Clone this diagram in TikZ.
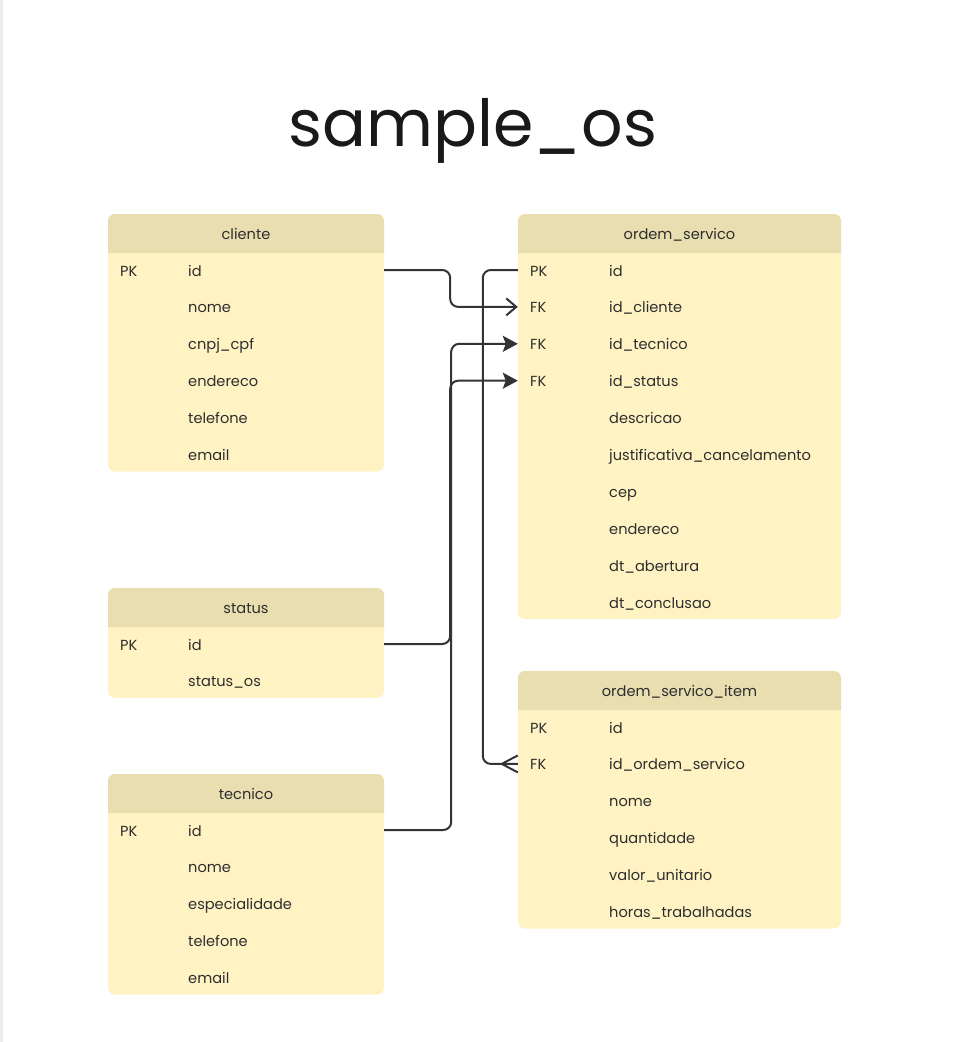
\documentclass[tikz,border=0pt]{standalone}
\usepackage{fontspec}
\setmainfont{Poppins}
\usetikzlibrary{arrows.meta}
\definecolor{headc}{HTML}{E8DEB0}
\definecolor{bodyc}{HTML}{FFF3C4}
\definecolor{txt}{HTML}{2E2E2E}
\definecolor{linec}{HTML}{333333}
\tikzset{
  lbl/.style={anchor=west, inner sep=0pt, text height=10pt, text depth=0pt, font=\fontsize{14.6pt}{16pt}\selectfont, text=txt},
  ttl/.style={inner sep=0pt, text height=10pt, text depth=0pt, font=\fontsize{14.6pt}{16pt}\selectfont, text=txt},
  rowbox/.style={inner sep=0pt, minimum height=36pt},
  conn/.style={draw=linec, line width=2pt, rounded corners=8pt},
  openarr/.style={-{Straight Barb[length=10pt,width=17pt,line width=2pt]}},
  fillarr/.style={-{Stealth[length=15pt,width=16pt,inset=3pt]}},
}
% #1 name, #2 left x, #3 top y, #4 width, #5 title, #6 number of rows, #7 rows key/field, #8 field offset
\newcommand\erdtable[8]{%
  \pgfmathsetmacro\tb{#3+39+34+(#6-1)*36.9}
  \fill[bodyc, rounded corners=7pt] (#2,#3) rectangle ({#2+#4},\tb);
  \fill[headc] (#2,#3+39) [rounded corners=7pt] -- (#2,#3) -- ({#2+#4},#3) [sharp corners] -- ({#2+#4},#3+39) -- cycle;
  \node[ttl] (#1-head) at ({#2+#4/2},#3+20) {#5};
  \foreach \k/\f [count=\i] in {#7} {
    \node[rowbox, minimum width=#4pt] (#1-\i) at ({#2+#4/2},{#3+39+17+(\i-1)*36.9}) {};
    \node[lbl] (#1-\i-k) at ({#2+12},{#3+39+18+(\i-1)*36.9}) {\k};
    \node[lbl] (#1-\i-f) at ({#2+#8},{#3+39+18+(\i-1)*36.9}) {\f};
  }
}
\begin{document}
\begin{tikzpicture}[x=1pt,y=-1pt]
\useasboundingbox (0,0) rectangle (959,1042);
\fill[white] (0,0) rectangle (959,1042);
\fill[black!7] (0,0) rectangle (2.5,1042);
\node[inner sep=0pt, anchor=base, font=\fontsize{65pt}{72pt}\selectfont, text=black!90] (title) at (473,146) {sample\_os};

\erdtable{cli}{108}{214}{276}{cliente}{6}{PK/id, /nome, /cnpj\_cpf, /endereco, /telefone, /email}{80}
\erdtable{st}{108}{588}{276}{status}{2}{PK/id, /status\_os}{80}
\erdtable{tec}{108}{774}{276}{tecnico}{5}{PK/id, /nome, /especialidade, /telefone, /email}{80}
\erdtable{os}{518}{214}{323}{ordem\_servico}{10}{PK/id, FK/id\_cliente, FK/id\_tecnico, FK/id\_status, /descricao, /justificativa\_cancelamento, /cep, /endereco, /dt\_abertura, /dt\_conclusao}{91}
\erdtable{osi}{518}{671}{323}{ordem\_servico\_item}{6}{PK/id, FK/id\_ordem\_servico, /nome, /quantidade, /valor\_unitario, /horas\_trabalhadas}{91}

% connectors
\draw[conn, openarr] (cli-1.east) -- ++(66,0) |- (os-2.west);
\draw[conn, fillarr] (st-1.east) -- ++(66,0) |- (os-4.west);
\draw[conn, fillarr] (tec-1.east) -- ++(67,0) |- (os-3.west);
\draw[conn] (os-1.west) -- ++(-35,0) |- (osi-2.west);
\draw[draw=linec, line width=2pt] (osi-2.west) ++(-16,0) -- ++(16,-8.5) ++(-16,8.5) -- ++(16,8.5);
\end{tikzpicture}
\end{document}
